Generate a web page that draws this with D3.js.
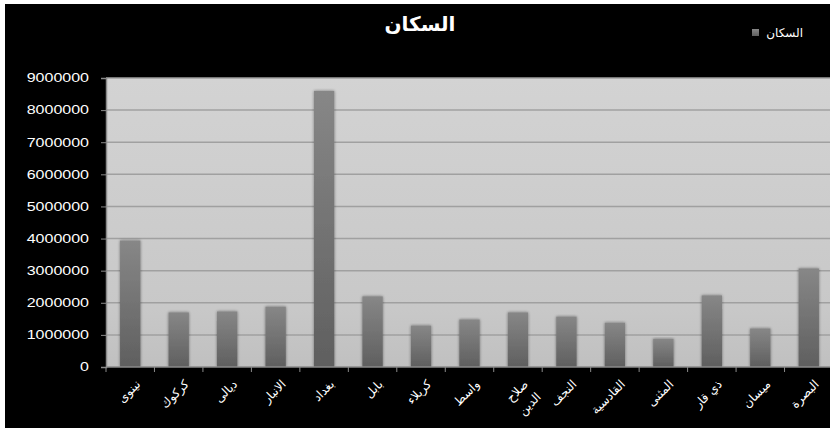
<!DOCTYPE html>
<html>
<head>
<meta charset="utf-8">
<script src="https://cdn.jsdelivr.net/npm/d3@7"></script>
<style>
  html, body { margin: 0; padding: 0; background: #fff; }
  svg { display: block; }
</style>
</head>
<body>
<div id="chart"></div>
<script>
const categories = ['نينوى', 'كركوك', 'ديالى', 'الانبار', 'بغداد', 'بابل', 'كربلاء', 'واسط',
    'صلاح الدين', 'النجف', 'القادسية', 'المثنى', 'ذي قار', 'ميسان', 'البصرة'];
const population = [3940000, 1700000, 1730000, 1880000, 8600000, 2200000, 1290000, 1480000,
    1700000, 1570000, 1380000, 880000, 2230000, 1200000, 3070000];
const yTicks = [0, 1000000, 2000000, 3000000, 4000000, 5000000, 6000000, 7000000, 8000000, 9000000];
const seriesName = 'السكان';

const W = 830, H = 428;
const margin = { top: 78, right: -3, bottom: 61, left: 106 };
const width = W - margin.left - margin.right;
const height = H - margin.top - margin.bottom;

const root = d3.select('#chart').append('svg')
    .attr('width', W)
    .attr('height', H);

// black chart area with thin white frame on top / left
root.append('rect')
    .attr('x', 5).attr('y', 4)
    .attr('width', W - 5).attr('height', H - 4)
    .attr('fill', '#000');

const defs = root.append('defs');
const bg = defs.append('linearGradient').attr('id', 'bg')
    .attr('x1', 0).attr('y1', 0).attr('x2', 0).attr('y2', 1);
bg.append('stop').attr('offset', '0%').attr('stop-color', '#d3d3d3');
bg.append('stop').attr('offset', '80%').attr('stop-color', '#c8c8c8');
bg.append('stop').attr('offset', '100%').attr('stop-color', '#c0c0c0');

const barGrad = defs.append('linearGradient').attr('id', 'barGrad')
    .attr('x1', 0).attr('y1', 0).attr('x2', 0).attr('y2', 1);
barGrad.append('stop').attr('offset', '0%').attr('stop-color', '#878787');
barGrad.append('stop').attr('offset', '100%').attr('stop-color', '#5f5f5f');

const shadow = defs.append('filter').attr('id', 'shadow')
    .attr('x', '-30%').attr('y', '-5%').attr('width', '160%').attr('height', '110%');
shadow.append('feGaussianBlur').attr('in', 'SourceAlpha').attr('stdDeviation', 1.5).attr('result', 'b');
shadow.append('feComponentTransfer').attr('in', 'b').attr('result', 's')
    .append('feFuncA').attr('type', 'linear').attr('slope', 0.45);
const merge = shadow.append('feMerge');
merge.append('feMergeNode').attr('in', 's');
merge.append('feMergeNode').attr('in', 'SourceGraphic');

const svg = root.append('g')
    .attr('transform', `translate(${margin.left},${margin.top})`);

const x = d3.scaleBand()
    .domain(categories)
    .range([0, width])
    .paddingInner(0.58)
    .paddingOuter(0.29);

const y = d3.scaleLinear()
    .domain([0, 9000000])
    .range([height, 0]);

svg.append('rect')
    .attr('width', width)
    .attr('height', height)
    .attr('fill', 'url(#bg)');

// gridlines
svg.append('g')
    .selectAll('line')
    .data(yTicks.slice(1))
    .enter()
    .append('line')
    .attr('x1', 0)
    .attr('x2', width)
    .attr('y1', d => y(d))
    .attr('y2', d => y(d))
    .attr('stroke', '#a0a0a0')
    .attr('stroke-width', 1.5);

// bars
svg.selectAll('.bar')
    .data(population)
    .enter()
    .append('rect')
    .attr('class', 'bar')
    .attr('x', (d, i) => x(categories[i]))
    .attr('y', d => y(d))
    .attr('width', x.bandwidth())
    .attr('height', d => height - y(d))
    .attr('fill', 'url(#barGrad)')
    .attr('filter', 'url(#shadow)');

// y axis
const fmt = d3.format('d');
const yAxis = svg.append('g')
    .call(d3.axisLeft(y).tickValues(yTicks).tickSize(5).tickPadding(12).tickFormat(fmt));
yAxis.select('.domain').attr('stroke', '#8a8a8a').attr('stroke-width', 1.5);
yAxis.selectAll('.tick line').attr('stroke', '#8a8a8a');
yAxis.selectAll('.tick text')
    .attr('fill', '#fff')
    .attr('font-family', '"Liberation Sans", Arial, sans-serif')
    .attr('font-size', 12)
    .attr('textLength', d => fmt(d).length * 8.9)
    .attr('lengthAdjust', 'spacingAndGlyphs');

// x axis: tick marks at band boundaries
const step = x.step();
const xAxisG = svg.append('g').attr('transform', `translate(0,${height})`);
xAxisG.append('line')
    .attr('x1', 0).attr('x2', width)
    .attr('stroke', '#8a8a8a').attr('stroke-width', 1.5);
xAxisG.selectAll('.xt')
    .data(d3.range(categories.length + 1))
    .enter()
    .append('line')
    .attr('x1', i => i * step)
    .attr('x2', i => i * step)
    .attr('y1', 0).attr('y2', 5)
    .attr('stroke', '#8a8a8a');

const labels = xAxisG.selectAll('.xl')
    .data(categories)
    .enter()
    .append('text')
    .attr('transform', d => `translate(${x(d) + x.bandwidth() / 2 + 5},${12}) rotate(-45)`)
    .attr('text-anchor', 'end')
    .attr('fill', '#fff')
    .attr('font-family', '"DejaVu Sans", sans-serif')
    .attr('font-size', 12);

labels.each(function(d) {
    const t = d3.select(this);
    const parts = d === 'صلاح الدين' ? ['صلاح', 'الدين'] : [d];
    parts.forEach((p, k) => {
        t.append('tspan')
            .attr('x', 0)
            .attr('dy', k === 0 ? '0.7em' : '1.5em')
            .text(p);
    });
});

// title
root.append('text')
    .attr('x', 420)
    .attr('y', 31)
    .attr('text-anchor', 'middle')
    .attr('fill', '#fff')
    .attr('font-family', '"DejaVu Sans", sans-serif')
    .attr('font-weight', 'bold')
    .attr('font-size', 20)
    .text(seriesName);

// legend
root.append('rect')
    .attr('x', 752).attr('y', 29)
    .attr('width', 7).attr('height', 7)
    .attr('fill', 'url(#barGrad)');
root.append('text')
    .attr('x', 803)
    .attr('y', 37)
    .attr('text-anchor', 'end')
    .attr('fill', '#fff')
    .attr('font-family', '"DejaVu Sans", sans-serif')
    .attr('font-size', 12)
    .text(seriesName);
</script>
</body>
</html>
